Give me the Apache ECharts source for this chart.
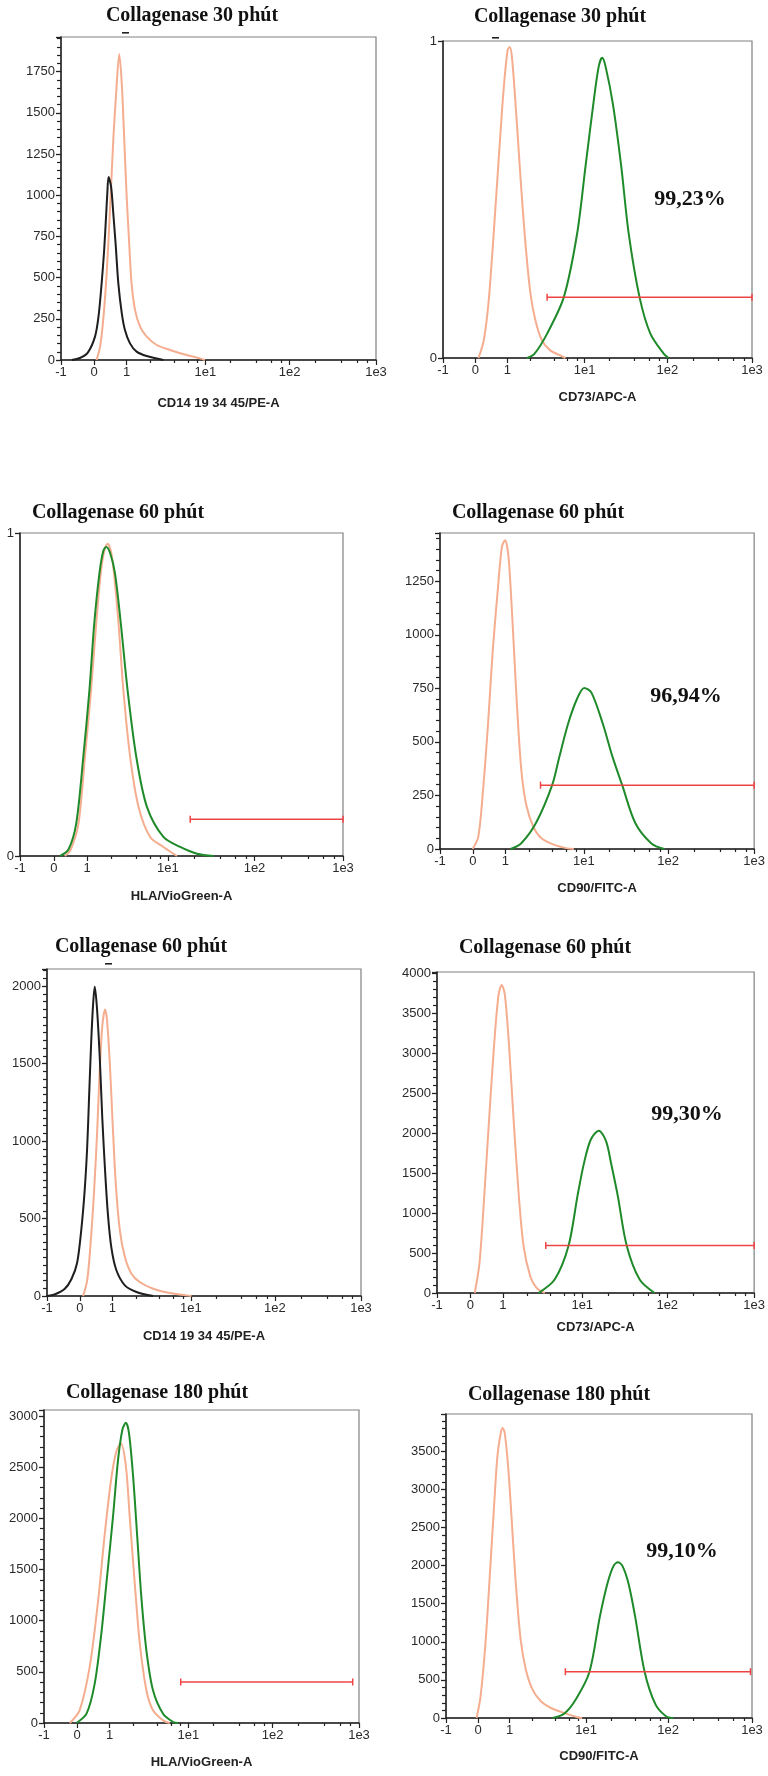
<!DOCTYPE html>
<html>
<head>
<meta charset="utf-8">
<script src="https://cdn.jsdelivr.net/npm/echarts@6/dist/echarts.min.js"></script>
<style>
  html, body { margin: 0; padding: 0; background: #fff; }
  #chart-container { width: 768px; height: 1776px; }
</style>
</head>
<body>
<div id="chart-container"></div>
<script>
// x axis is a logicle-like display scale (0..100 display units)
const xTickLabels = ["-1", "0", "1", "1e1", "1e2", "1e3"];
const xTickPos = [0, 10.5, 20.8, 45.8, 72.6, 100];

const panelTitles = [
  "Collagenase 30 phút", "Collagenase 30 phút",
  "Collagenase 60 phút", "Collagenase 60 phút",
  "Collagenase 60 phút", "Collagenase 60 phút",
  "Collagenase 180 phút", "Collagenase 180 phút"
];
const axisNames = [
  "CD14 19 34 45/PE-A", "CD73/APC-A",
  "HLA/VioGreen-A", "CD90/FITC-A",
  "CD14 19 34 45/PE-A", "CD73/APC-A",
  "HLA/VioGreen-A", "CD90/FITC-A"
];
const gatePercents = [null, "99,23%", null, "96,94%", null, "99,30%", null, "99,10%"];

// histograms: [display x, count]
const p1Black = [[3.4,0],[6,12],[8.5,45],[10.8,142],[11.9,263],[12.9,465],[13.7,667],[14.3,870],[14.7,1011],[15.1,1110],[15.9,1052],[16.6,890],[17.4,688],[18.2,465],[19.3,283],[20.3,182],[21.9,101],[24.0,51],[27.2,24],[32.5,0]];
const p1Orange = [[11.3,0],[12.4,81],[13.4,243],[14.5,526],[15.6,931],[16.6,1335],[17.5,1618],[18.5,1857],[19.3,1675],[20.0,1375],[20.8,1011],[21.7,688],[22.4,465],[23.5,304],[25.1,202],[27.2,142],[30.4,91],[34.6,61],[39.9,30],[44.1,10],[45.7,0]];

const p2Orange = [[11.5,0],[13.2,0.056],[14.8,0.182],[16.4,0.392],[18.0,0.624],[19.6,0.845],[20.9,0.971],[21.6,0.981],[22.3,0.95],[23.4,0.813],[25.0,0.581],[26.6,0.371],[28.3,0.203],[29.9,0.119],[32.0,0.056],[34.7,0.024],[38.0,0.008],[39.6,0]];
const p2Green = [[27.2,0],[29.5,0.012],[33.7,0.077],[39.1,0.192],[43.4,0.392],[46.1,0.603],[48.8,0.813],[50.4,0.92],[51.5,0.947],[52.6,0.92],[55.0,0.8],[57.7,0.603],[60.1,0.392],[63.6,0.192],[67.1,0.077],[71.4,0.014],[73.0,0]];

const p3Orange = [[13.9,0],[15.7,0.02],[18.1,0.1],[20.1,0.307],[22.0,0.514],[23.6,0.721],[25.0,0.876],[26.2,0.95],[27.1,0.967],[28.1,0.945],[29.1,0.876],[30.5,0.721],[32.0,0.514],[34.1,0.307],[36.7,0.152],[40.3,0.059],[44.4,0.028],[48.6,0]];
const p3Green = [[12.4,0],[15.0,0.02],[17.4,0.1],[19.6,0.307],[21.5,0.514],[23.0,0.721],[24.6,0.876],[25.8,0.945],[26.7,0.957],[27.9,0.938],[29.4,0.876],[31.2,0.721],[33.3,0.514],[36.0,0.307],[39.3,0.152],[44.4,0.059],[49.6,0.028],[54.8,0.007],[59.9,0]];

const p4Orange = [[10.4,0],[12.2,58],[13.7,275],[15.3,586],[16.8,928],[18.4,1210],[19.7,1410],[20.7,1441],[21.8,1364],[23.0,1083],[24.0,804],[25.1,524],[26.1,337],[27.6,197],[29.7,104],[32.3,50],[36.4,19],[40.5,3],[42.6,0]];
const p4Green = [[22.5,0],[25.8,26],[30.5,120],[35.7,298],[38.0,431],[40.8,586],[43.6,700],[45.9,752],[48.2,730],[51.8,586],[54.9,431],[58.0,298],[62.2,120],[67.3,26],[71.4,0]];

const p5Black = [[0,0],[2.4,10],[5.6,45],[7.8,110],[9.6,215],[10.9,424],[12.0,682],[12.8,961],[13.4,1285],[14.1,1651],[14.7,1888],[15.2,1996],[15.9,1862],[16.8,1539],[17.6,1152],[18.5,807],[19.4,527],[20.5,312],[22.1,166],[24.8,69],[28.5,26],[33.8,0]];
const p5Orange = [[11.5,0],[12.8,101],[13.8,317],[14.9,641],[16.0,1072],[16.8,1460],[17.6,1740],[18.5,1849],[19.1,1783],[20.0,1503],[20.8,1158],[21.9,727],[23.2,424],[24.8,252],[26.9,144],[29.5,90],[33.8,47],[39.1,19],[44.4,4],[46.0,0]];

const p6Orange = [[11.9,0],[13.4,377],[14.9,1215],[16.5,2220],[18.0,3100],[19.4,3728],[20.4,3853],[21.4,3728],[22.7,3100],[24.2,2136],[25.8,1215],[27.3,586],[29.4,209],[31.4,63],[34.0,0]];
const p6Green = [[32.0,0],[37.1,168],[41.5,595],[44.3,1215],[46.4,1634],[48.5,1920],[51.0,2030],[53.3,1900],[55.0,1600],[57.0,1215],[59.8,595],[63.9,168],[68.6,0]];

const p7Orange = [[8.2,0],[11.3,124],[14.5,548],[17.2,1200],[19.3,1852],[21.4,2400],[23.0,2660],[24.4,2733],[26.0,2510],[27.2,2020],[28.8,1370],[30.4,780],[32.5,320],[34.6,124],[37.8,26],[39.9,0]];
const p7Green = [[10.3,0],[13.5,91],[16.1,385],[18.2,874],[19.8,1363],[21.9,2015],[23.5,2570],[24.9,2870],[26.0,2935],[27.0,2830],[28.3,2406],[29.6,1820],[30.9,1233],[32.5,711],[34.6,320],[37.8,91],[41.0,10],[42.6,0]];

const p8Orange = [[10.0,0],[11.3,284],[12.9,984],[14.3,1859],[15.7,2778],[16.8,3434],[17.9,3740],[18.5,3806],[19.2,3740],[20.3,3303],[21.4,2647],[22.8,1772],[24.4,1028],[26.1,634],[28.3,372],[31.0,219],[34.3,131],[38.7,66],[43.0,9],[44.5,0]];
const p8Green = [[34.8,0],[38.7,60],[42.5,250],[46.9,608],[50.3,1334],[52.8,1772],[54.8,2000],[56.2,2043],[57.6,2000],[59.6,1772],[61.8,1334],[64.9,608],[68.5,175],[72.0,20],[74.3,0]];

// gate markers (horizontal bars)
const gates = [
  null,
  [[33.7,0.192],[100,0.192]],
  [[52.7,0.114],[100,0.114]],
  [[32.0,298],[100,298]],
  null,
  [[34.3,595],[100,595]],
  [[43.4,401],[98.0,401]],
  [[39.0,608],[99.5,608]]
];

const curves = [
  [[p1Orange, "orange"], [p1Black, "black"]],
  [[p2Orange, "orange"], [p2Green, "green"]],
  [[p3Orange, "orange"], [p3Green, "green"]],
  [[p4Orange, "orange"], [p4Green, "green"]],
  [[p5Orange, "orange"], [p5Black, "black"]],
  [[p6Orange, "orange"], [p6Green, "green"]],
  [[p7Orange, "orange"], [p7Green, "green"]],
  [[p8Orange, "orange"], [p8Green, "green"]]
];

const yMax = [1960, 1, 1, 1475, 2110, 4015, 3060, 3990];
const yInterval = [250, 1, 1, 250, 500, 500, 500, 500];
const yMinorSplit = [5, 0, 0, 5, 10, 5, 5, 5];

// layout (pixels)
const gridRects = [
  [61, 37, 315, 323], [443, 41, 309, 317],
  [20, 533, 323, 323], [440, 533, 323, 316],
  [47, 969, 314, 327], [437, 972, 324, 321],
  [44, 1410, 315, 313], [446, 1414, 306, 304]
];
const titlePos = [[192,16],[560,17],[118,513],[538,513],[141,947],[545,948],[157,1393],[559,1395]];
const pctPos = [null,[690,199],null,[686,696],null,[687,1114],null,[682,1551]];
const nameGaps = [37, 33, 34, 33, 34, 28, 33, 32];

const colors = { orange: "#f5ad8f", green: "#1f8a2a", black: "#1e1e1e", gate: "#ef4444" };

// minor log ticks at 2,4,6,8 inside each decade
const minorPos = [];
for (let i = 2; i < xTickPos.length - 1; i++) {
  [2, 4, 6, 8].forEach(function (k) {
    minorPos.push(xTickPos[i] + Math.log10(k) * (xTickPos[i + 1] - xTickPos[i]));
  });
}

var dom = document.getElementById("chart-container");
var myChart = echarts.init(dom, null, { renderer: "canvas" });

const grid = [], xAxis = [], yAxis = [], series = [], graphic = [];
const labelFont = "Liberation Sans";

gridRects.forEach(function (r, i) {
  grid.push({
    left: r[0], top: r[1], width: r[2], height: r[3],
    show: true, borderColor: "#808080", borderWidth: 1.2, backgroundColor: "#fff"
  });
  // major ticks + labels
  xAxis.push({
    type: "value", gridIndex: i, min: 0, max: 100, position: "bottom",
    name: axisNames[i], nameLocation: "middle", nameGap: nameGaps[i],
    nameTextStyle: { fontFamily: labelFont, fontWeight: "bold", fontSize: 13, color: "#222" },
    axisLine: { show: true, onZero: false, lineStyle: { color: "#222", width: 1.5 } },
    axisTick: { show: true, length: 5, customValues: xTickPos, lineStyle: { color: "#222", width: 1.2 } },
    axisLabel: {
      show: true, customValues: xTickPos, margin: 6,
      fontFamily: labelFont, fontSize: 13, color: "#2a2a2a",
      formatter: function (v) {
        const idx = xTickPos.findIndex(function (p) { return Math.abs(p - v) < 1e-6; });
        return idx >= 0 ? xTickLabels[idx] : "";
      }
    },
    splitLine: { show: false }
  });
  // minor ticks
  xAxis.push({
    type: "value", gridIndex: i, min: 0, max: 100, position: "bottom",
    axisLine: { show: false },
    axisTick: { show: true, length: 3, customValues: minorPos, lineStyle: { color: "#222", width: 1.2 } },
    axisLabel: { show: false },
    splitLine: { show: false }
  });
  const niceMax = yMax[i] % yInterval[i] === 0;
  yAxis.push({
    type: "value", gridIndex: i, min: 0, max: yMax[i], interval: yInterval[i],
    axisLine: { show: true, onZero: false, lineStyle: { color: "#222", width: 1.5 } },
    axisTick: { show: true, length: 5, lineStyle: { color: "#222", width: 1.3 } },
    minorTick: { show: yMinorSplit[i] > 0, splitNumber: yMinorSplit[i] || 5, length: 4, lineStyle: { color: "#222", width: 1.2 } },
    axisLabel: {
      margin: 6, fontFamily: labelFont, fontSize: 13, color: "#2a2a2a",
      showMaxLabel: niceMax,
      formatter: function (v) { return String(v); }
    },
    splitLine: { show: false }
  });

  curves[i].forEach(function (c) {
    series.push({
      type: "line", xAxisIndex: 2 * i, yAxisIndex: i,
      data: c[0], showSymbol: false, smooth: 0.3,
      lineStyle: { color: colors[c[1]], width: 2 },
      z: c[1] === "orange" ? 2 : 3
    });
  });
  if (gates[i]) {
    series.push({
      type: "line", xAxisIndex: 2 * i, yAxisIndex: i,
      data: gates[i], symbol: "rect", symbolSize: [1.5, 7], showSymbol: true,
      lineStyle: { color: colors.gate, width: 1.5 },
      itemStyle: { color: colors.gate },
      z: 4
    });
  }

  graphic.push({
    type: "text", x: titlePos[i][0], y: titlePos[i][1],
    style: {
      text: panelTitles[i], fill: "#111",
      font: 'bold 20px "Liberation Serif"', align: "center", verticalAlign: "middle"
    }
  });
  if (gatePercents[i]) {
    graphic.push({
      type: "text", x: pctPos[i][0], y: pctPos[i][1],
      style: {
        text: gatePercents[i], fill: "#111",
        font: 'bold 22px "Liberation Serif"', align: "center", verticalAlign: "middle"
      }
    });
  }
});

// small stray dashes above some plots
[[122, 32], [492, 37], [105, 963]].forEach(function (d) {
  graphic.push({ type: "rect", shape: { x: d[0], y: d[1], width: 7, height: 1.6 }, style: { fill: "#222" } });
});

var option = {
  backgroundColor: "#fff",
  animation: false,
  grid: grid,
  xAxis: xAxis,
  yAxis: yAxis,
  series: series,
  graphic: graphic
};
myChart.setOption(option);
window.addEventListener("resize", myChart.resize);
</script>
</body>
</html>
